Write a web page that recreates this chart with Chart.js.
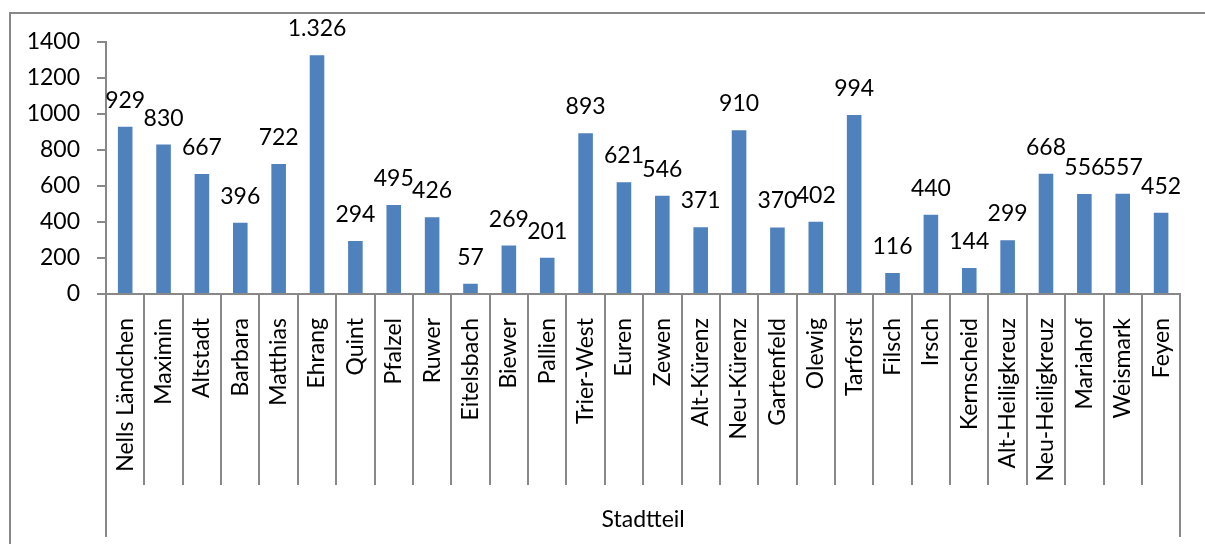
<!DOCTYPE html>
<html>
<head>
<meta charset="utf-8">
<script src="https://cdn.jsdelivr.net/npm/chart.js@4.4.1/dist/chart.umd.min.js"></script>
<style>
  html, body { margin: 0; padding: 0; background: #fff; overflow: hidden; }
  #wrap { position: relative; width: 1205px; height: 544px; }
  #frame { position: absolute; left: 9px; top: 12px; width: 1300px; height: 700px;
           border-left: 2px solid #888; border-top: 2px solid #888; }
  canvas { position: absolute; left: 0; top: 0; }
</style>
</head>
<body>
<div id="wrap">
  <div id="frame"></div>
  <canvas id="chart" width="1205" height="544"></canvas>
</div>
<script>
// ------------------------------
// Data
// ------------------------------
const districts = [
    "Nells Ländchen", "Maximin", "Altstadt", "Barbara", "Matthias", "Ehrang",
    "Quint", "Pfalzel", "Ruwer", "Eitelsbach", "Biewer", "Pallien",
    "Trier-West", "Euren", "Zewen", "Alt-Kürenz", "Neu-Kürenz", "Gartenfeld",
    "Olewig", "Tarforst", "Filsch", "Irsch", "Kernscheid", "Alt-Heiligkreuz",
    "Neu-Heiligkreuz", "Mariahof", "Weismark", "Feyen"
];

const counts = [
    929, 830, 667, 396, 722, 1326,
    294, 495, 426, 57, 269, 201,
    893, 621, 546, 371, 910, 370,
    402, 994, 116, 440, 144, 299,
    668, 556, 557, 452
];

const axisTitle = "Stadtteil";

// ------------------------------
// Plugins
// ------------------------------
const FONT = "Lato, 'Open Sans', sans-serif";
const GREY = "#888888";

// value labels above the bars (German thousands separator)
const valueLabels = {
    id: "valueLabels",
    afterDatasetsDraw(chart) {
        const ctx = chart.ctx;
        const meta = chart.getDatasetMeta(0);
        ctx.save();
        ctx.font = "23px " + FONT;
        ctx.fillStyle = "#000";
        ctx.textAlign = "center";
        ctx.textBaseline = "alphabetic";
        meta.data.forEach((bar, i) => {
            ctx.fillText(counts[i].toLocaleString("de-DE"), bar.x, bar.y - 19);
        });
        ctx.restore();
    }
};

// category separators below the axis, like Excel's label box
const separators = {
    id: "separators",
    afterDraw(chart) {
        const ctx = chart.ctx;
        const x = chart.scales.x;
        const top = chart.chartArea.bottom;
        ctx.save();
        ctx.strokeStyle = GREY;
        ctx.lineWidth = 2;
        for (let i = 0; i <= districts.length; i++) {
            const px = Math.round(x.getPixelForValue(i - 0.5));
            const outer = i === 0 || i === districts.length;
            ctx.beginPath();
            ctx.moveTo(px, top);
            ctx.lineTo(px, top + (outer ? 243 : 191));
            ctx.stroke();
        }
        ctx.restore();
    }
};

// ------------------------------
// Chart.js Code
// ------------------------------
const ctx = document.getElementById("chart");

new Chart(ctx, {
    type: "bar",
    data: {
        labels: districts,
        datasets: [
            {
                data: counts,
                backgroundColor: "#4F81BD",
                borderWidth: 0,
                categoryPercentage: 1,
                barPercentage: 0.38
            }
        ]
    },
    options: {
        responsive: false,
        animation: false,
        layout: {
            padding: { left: 0, right: 17, top: 42, bottom: 0 }
        },
        plugins: {
            legend: { display: false },
            tooltip: { enabled: false }
        },
        scales: {
            x: {
                offset: true,
                grid: { display: false },
                border: { display: true, color: GREY, width: 2 },
                ticks: {
                    color: "#000",
                    font: { family: FONT, size: 23 },
                    minRotation: 90,
                    maxRotation: 90,
                    autoSkip: false,
                    padding: 16
                },
                title: {
                    display: true,
                    text: axisTitle,
                    color: "#000",
                    font: { family: FONT, size: 23 },
                    padding: { top: 0, bottom: 11 }
                },
                afterFit(scale) { scale.height = 250; }
            },
            y: {
                min: 0,
                max: 1400,
                grid: {
                    drawOnChartArea: false,
                    drawTicks: true,
                    tickLength: 9,
                    color: GREY,
                    lineWidth: 2
                },
                border: { display: true, color: GREY, width: 2 },
                ticks: {
                    stepSize: 200,
                    color: "#000",
                    font: { family: FONT, size: 23 },
                    padding: 17,
                    callback: (v) => String(v)
                },
                afterFit(scale) { scale.width = 106; }
            }
        }
    },
    plugins: [valueLabels, separators]
});
</script>
</body>
</html>
